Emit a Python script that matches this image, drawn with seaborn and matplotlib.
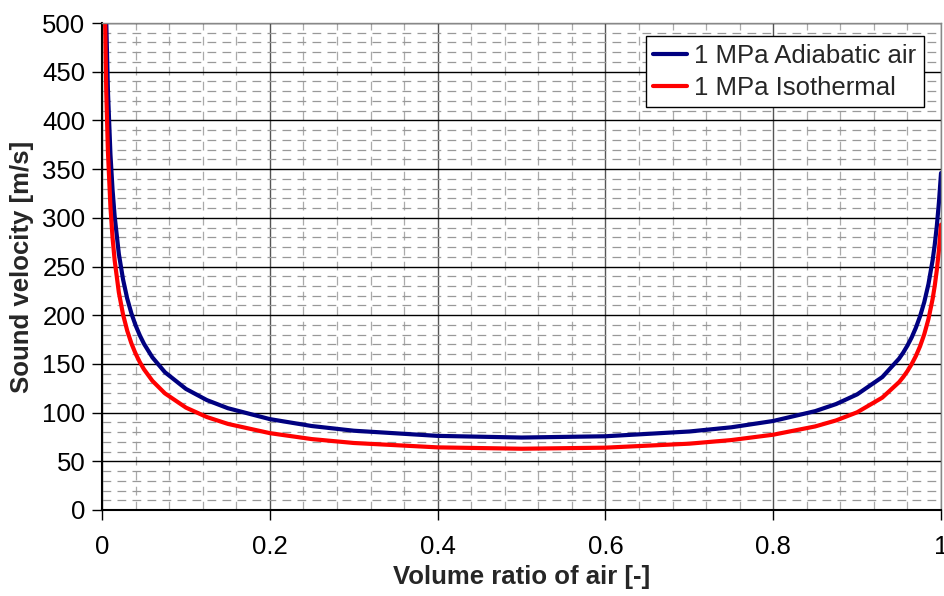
import matplotlib
matplotlib.use("Agg")
import matplotlib.pyplot as plt
import seaborn as sns
import pandas as pd
from matplotlib.ticker import MultipleLocator

# Volume ratio of air (x) and sound velocities
ratio = [0.003, 0.005, 0.007, 0.01, 0.0125, 0.015, 0.02, 0.025, 0.03, 0.035, 0.04,
         0.045, 0.05, 0.06, 0.075, 0.1, 0.125, 0.15, 0.2, 0.25, 0.3, 0.4, 0.5, 0.6,
         0.7, 0.75, 0.8, 0.85, 0.875, 0.9, 0.93, 0.95, 0.955, 0.96, 0.965, 0.97,
         0.975, 0.98, 0.985, 0.99, 0.9925, 0.995, 0.9975, 1.0]
adiabatic = [622.8, 500.4, 430.2, 365.0, 328.8, 301.7, 263.0, 236.8, 217.0, 201.8, 189.5,
             179.3, 170.6, 156.7, 141.4, 124.3, 112.8, 104.5, 93.3, 86.2, 81.4, 76.1, 74.4, 75.7,
             80.6, 84.9, 91.4, 101.5, 108.8, 118.7, 136.5, 155.4, 161.7, 168.9, 177.2, 187.1,
             198.9, 213.4, 231.9, 256.6, 272.4, 291.7, 315.8, 346.0]
isothermal = [539.7, 429.7, 367.9, 311.0, 279.7, 256.4, 223.4, 200.8, 184.0, 171.0, 160.5,
              151.8, 144.4, 132.6, 119.7, 105.1, 95.4, 88.4, 78.9, 72.8, 68.8, 64.3, 62.9, 64.0,
              68.1, 71.8, 77.3, 85.8, 92.0, 100.3, 115.4, 131.3, 136.6, 142.7, 149.8, 158.1,
              168.1, 180.4, 196.0, 216.8, 230.2, 246.5, 266.9, 293.0]
labels = ["1 MPa Adiabatic air", "1 MPa Isothermal"]
colors = ["#000080", "#ff0000"]

df = pd.DataFrame({
    "ratio": ratio * 2,
    "velocity": adiabatic + isothermal,
    "series": [labels[0]] * len(ratio) + [labels[1]] * len(ratio),
})

sns.set_style("white")
plt.rcParams["font.family"] = ["Liberation Sans", "DejaVu Sans"]

FS = 18.5

fig = plt.figure(figsize=(9.45, 5.96), dpi=100)
ax = fig.add_axes([0.108, 0.1443, 0.8878, 0.8171])

# grid
ax.xaxis.set_major_locator(MultipleLocator(0.2))
ax.xaxis.set_minor_locator(MultipleLocator(0.04))
ax.yaxis.set_major_locator(MultipleLocator(50))
ax.yaxis.set_minor_locator(MultipleLocator(10))
ax.grid(which="major", axis="y", color="black", linewidth=1.0)
ax.grid(which="major", axis="x", color="#555555", linewidth=1.0)
ax.grid(which="minor", axis="y", color="#999999", linewidth=0.9, linestyle=(0, (7, 5)))
ax.grid(which="minor", axis="x", color="#aaaaaa", linewidth=0.9, linestyle=(0, (7, 5)))
ax.set_axisbelow(True)

sns.lineplot(data=df, x="ratio", y="velocity", hue="series", palette=colors,
             linewidth=3.0, ax=ax, sort=False, estimator=None)

ax.set_xlim(0, 1)
ax.set_ylim(0, 500)
ax.set_xticks([0, 0.2, 0.4, 0.6, 0.8, 1.0])
ax.set_xticklabels(["0", "0.2", "0.4", "0.6", "0.8", "1"])
ax.tick_params(which="major", direction="out", length=7, width=1, colors="black",
               labelsize=FS, pad=5, bottom=True, left=True)
ax.tick_params(which="minor", length=0)
ax.tick_params(axis="x", pad=11)

for side in ["top", "right"]:
    ax.spines[side].set_color("#888888")
    ax.spines[side].set_linewidth(1.0)
ax.spines["left"].set_color("black")
ax.spines["bottom"].set_color("black")
ax.spines["left"].set_linewidth(1.5)
ax.spines["bottom"].set_linewidth(1.5)

ax.set_xlabel("Volume ratio of air [-]", fontsize=FS, fontweight="bold", labelpad=4)
ax.set_ylabel("Sound velocity [m/s]", fontsize=FS, fontweight="bold", labelpad=6)

leg = ax.legend(loc="upper right", bbox_to_anchor=(0.98, 0.973), fontsize=FS,
                frameon=True, fancybox=False, framealpha=1, edgecolor="black",
                handlelength=1.3, handletextpad=0.3, borderpad=0.3, labelspacing=0.3,
                borderaxespad=0)
leg.get_frame().set_linewidth(1.0)
for line in leg.get_lines():
    line.set_linewidth(3)

fig.savefig("out.png", dpi=100)
